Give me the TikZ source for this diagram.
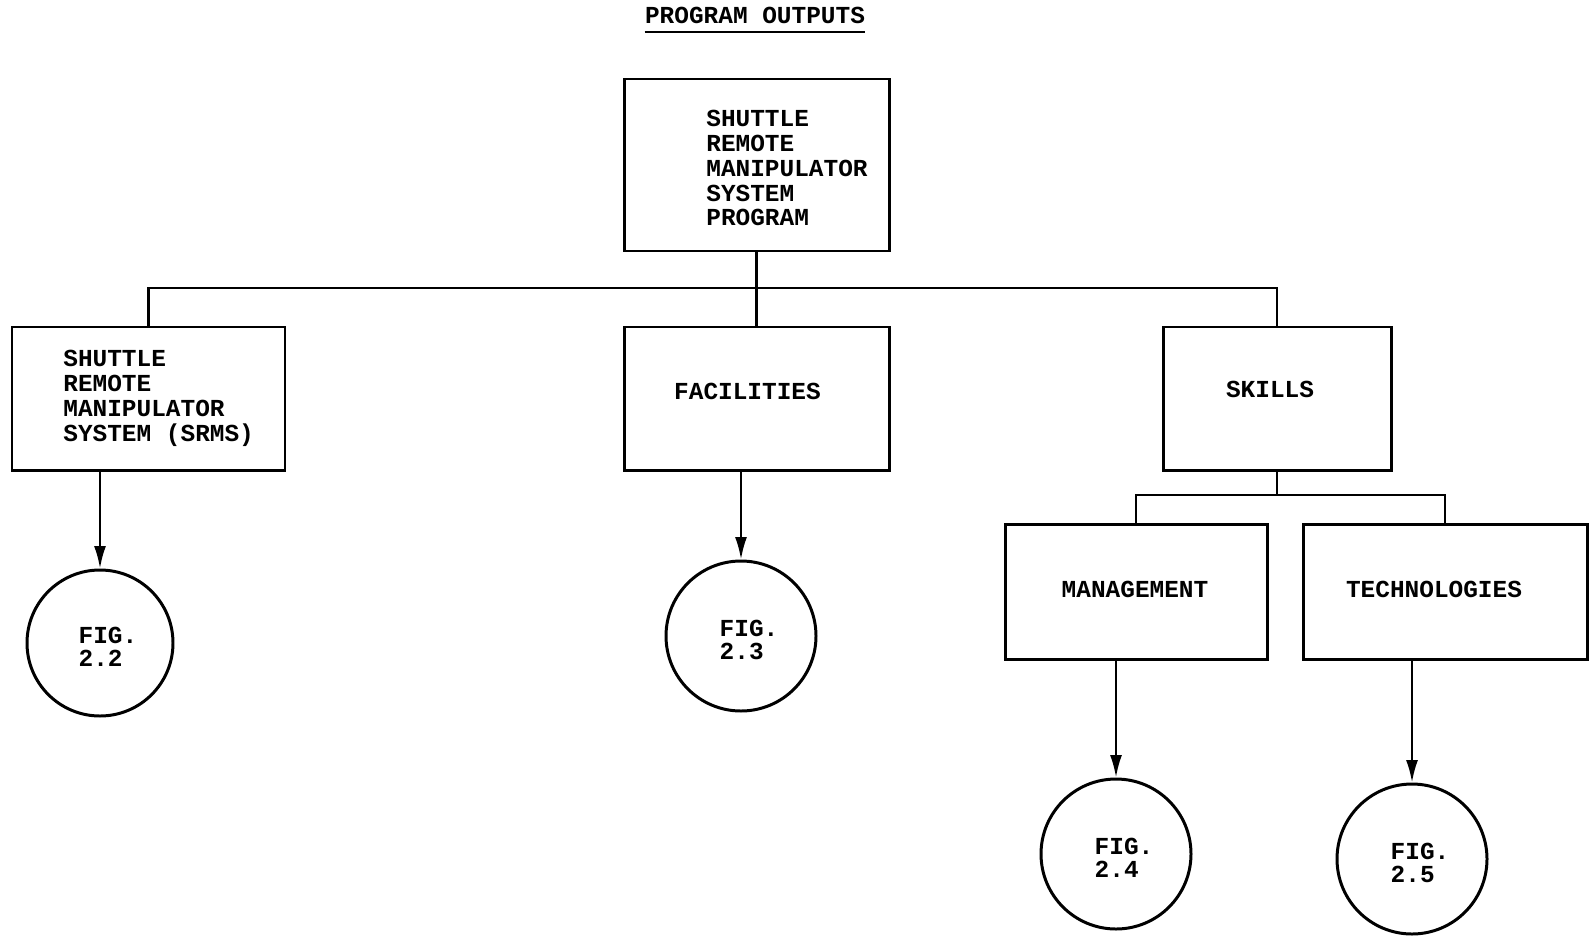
\documentclass[tikz,border=0pt]{standalone}
\usepackage{fontspec}
\setmonofont{Liberation Mono}
\usetikzlibrary{positioning, arrows.meta}

\begin{document}
\begin{tikzpicture}[>={Latex[length=4.5mm, width=2.4mm]},
    font=\ttfamily\bfseries\fontsize{13.9}{14.2}\selectfont,
    box/.style={rectangle, draw, line width=1.7pt, inner sep=0pt},
    fig/.style={circle, draw, line width=1.7pt, minimum size=3cm, inner sep=0pt},
    fignum/.style={align=left, inner sep=0pt, shift={(0.16,-0.08)},
      font=\ttfamily\bfseries\fontsize{13.9}{13.1}\selectfont},
    txt/.style={inner sep=0pt, align=left, anchor=west},
    link/.style={line width=1.3pt}]
  \useasboundingbox (0,0) rectangle (31.84,-18.76);

  \node[anchor=base, inner sep=0pt] (ttl) at (15.10,-0.46) {PROGRAM OUTPUTS};
  \draw[line width=1.1pt] ([yshift=-0.18cm]ttl.base west) -- ([yshift=-0.18cm]ttl.base east);

  % boxes
  \node[box, minimum width=5.30cm, minimum height=3.44cm] (top)    at (15.13,-3.30) {};
  \node[box, minimum width=5.46cm, minimum height=2.86cm] (srms)   at (2.97,-7.97)  {};
  \node[box, minimum width=5.30cm, minimum height=2.86cm,
        label={[shift={(-0.18,0.14)}]center:FACILITIES}] (fac)   at (15.13,-7.97) {};
  \node[box, minimum width=4.56cm, minimum height=2.86cm,
        label={[shift={(-0.14,0.18)}]center:SKILLS}] (skills)    at (25.54,-7.97) {};
  \node[box, minimum width=5.24cm, minimum height=2.70cm,
        label={[shift={(-0.02,0.04)}]center:MANAGEMENT}] (mgmt)  at (22.72,-11.83) {};
  \node[box, minimum width=5.68cm, minimum height=2.70cm,
        label={[shift={(-0.22,0.04)}]center:TECHNOLOGIES}] (tech) at (28.90,-11.83) {};

  \node[txt] (toptxt)  at (14.12,-3.36) {SHUTTLE\\REMOTE\\MANIPULATOR\\SYSTEM\\PROGRAM};
  \node[txt] (srmstxt) at (1.26,-7.97) {SHUTTLE\\REMOTE\\MANIPULATOR\\SYSTEM (SRMS)};

  % figure references
  \node[fig, minimum size=2.92cm, label={[fignum]center:FIG.\\2.2}] (f22) at (2.00,-12.86) {};
  \node[fig, label={[fignum]center:FIG.\\2.3}] (f23) at (14.82,-12.72) {};
  \node[fig, label={[fignum]center:FIG.\\2.4}] (f24) at (22.32,-17.08) {};
  \node[fig, label={[fignum]center:FIG.\\2.5}] (f25) at (28.24,-17.18) {};

  % tree lines
  \coordinate (bus) at (15.13,-5.76);
  \coordinate (sub) at (25.54,-9.90);
  \draw[link] (top.south) -- (fac.north);
  \draw[link] (srms.north) |- (bus) -| (skills.north);
  \draw[link] (skills.south) -- (sub);
  \draw[link] (mgmt.north) |- (sub) -| (tech.north);

  \draw[link, ->] (srms.south -| f22.north) -- (f22.north);
  \draw[link, ->] (fac.south -| f23.north) -- (f23.north);
  \draw[link, ->] (mgmt.south -| f24.north) -- (f24.north);
  \draw[link, ->] (tech.south -| f25.north) -- (f25.north);
\end{tikzpicture}
\end{document}
